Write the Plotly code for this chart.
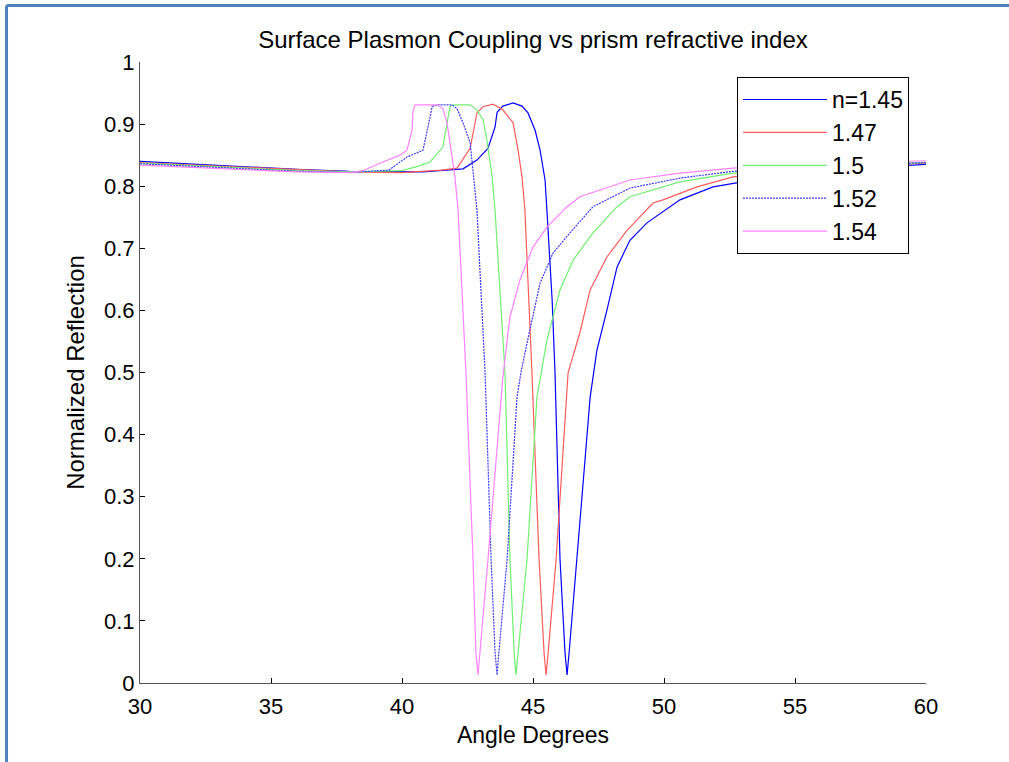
import plotly.graph_objects as go

# Surface plasmon reflection curves
labels = ["n=1.45", "1.47", "1.5", "1.52", "1.54"]

angle_145 = [30, 33, 36, 38, 40.80, 42.33, 42.86, 43.28, 43.55, 43.63, 43.85, 44.24, 44.58,
             44.81, 45.08, 45.27, 45.46, 45.53, 45.73, 45.84, 46.03, 46.22, 46.30, 46.38,
             46.68, 46.87, 47.18, 47.44, 47.82, 48.21, 48.70, 49.35, 50.61, 51.87, 52.71,
             56, 60]
refl_145 = [0.840, 0.833, 0.827, 0.824, 0.823, 0.828, 0.842, 0.861, 0.895, 0.919, 0.929,
            0.934, 0.929, 0.918, 0.890, 0.858, 0.810, 0.762, 0.617, 0.500, 0.200, 0.050,
            0.013, 0.050, 0.198, 0.300, 0.460, 0.536, 0.600, 0.670, 0.713, 0.741, 0.778,
            0.799, 0.805, 0.826, 0.835]

angle_147 = [30, 33, 36, 38, 40, 41.5, 42.10, 42.60, 42.86, 43.09, 43.47, 43.85, 44.24,
             44.43, 44.58, 44.69, 44.96, 45.23, 45.42, 45.50, 45.58, 45.88, 46.34, 46.79,
             47.18, 47.82, 48.59, 49.58, 49.96, 51.26, 52.63, 56, 60]
refl_147 = [0.838, 0.832, 0.826, 0.823, 0.822, 0.826, 0.829, 0.861, 0.918, 0.928, 0.932,
            0.923, 0.902, 0.858, 0.815, 0.762, 0.500, 0.200, 0.050, 0.013, 0.050, 0.198,
            0.500, 0.564, 0.633, 0.686, 0.729, 0.773, 0.778, 0.799, 0.815, 0.830, 0.837]

angle_150 = [30, 33, 36, 38, 40, 40.6, 41.07, 41.56, 41.76, 41.83, 41.95, 42.60, 42.86,
             43.09, 43.24, 43.44, 43.55, 43.93, 44.12, 44.28, 44.35, 44.43, 44.77, 45.15,
             45.31, 45.53, 46.03, 46.53, 47.29, 48.21, 48.70, 50.61, 52.63, 56, 60]
refl_150 = [0.837, 0.831, 0.825, 0.823, 0.825, 0.832, 0.839, 0.863, 0.911, 0.928, 0.931,
            0.931, 0.923, 0.907, 0.874, 0.815, 0.762, 0.500, 0.200, 0.050, 0.013, 0.050,
            0.198, 0.460, 0.500, 0.552, 0.633, 0.681, 0.725, 0.767, 0.783, 0.807, 0.821,
            0.832, 0.838]

angle_152 = [30, 33, 36, 38, 39.5, 40.19, 40.80, 40.99, 41.15, 41.34, 41.91, 42.10, 42.33,
             42.60, 42.71, 42.86, 43.17, 43.40, 43.55, 43.63, 43.70, 44.01, 44.39, 44.54,
             44.77, 45.27, 45.76, 46.41, 47.29, 48.70, 50.61, 52.63, 56, 60]
refl_152 = [0.836, 0.830, 0.824, 0.822, 0.826, 0.847, 0.858, 0.895, 0.928, 0.931, 0.931,
            0.925, 0.902, 0.870, 0.821, 0.762, 0.500, 0.200, 0.050, 0.013, 0.050, 0.198,
            0.460, 0.500, 0.547, 0.644, 0.692, 0.725, 0.767, 0.797, 0.813, 0.824, 0.833,
            0.838]

angle_154 = [30, 33, 36, 38, 38.5, 39.27, 39.92, 40.19, 40.38, 40.42, 40.50, 41.34, 41.56,
             41.72, 41.91, 42.02, 42.14, 42.44, 42.71, 42.82, 42.90, 42.98, 43.28, 43.85,
             44.12, 44.50, 45.00, 45.53, 46.30, 46.79, 48.70, 50.61, 52.63, 56, 60]
refl_154 = [0.834, 0.829, 0.823, 0.822, 0.825, 0.839, 0.850, 0.858, 0.890, 0.920, 0.931,
            0.931, 0.925, 0.902, 0.847, 0.815, 0.762, 0.500, 0.200, 0.050, 0.013, 0.050,
            0.198, 0.493, 0.589, 0.649, 0.702, 0.734, 0.767, 0.783, 0.810, 0.821, 0.829,
            0.836, 0.841]

x_ticks = [30, 35, 40, 45, 50, 55, 60]
y_ticks = [0, 0.1, 0.2, 0.3, 0.4, 0.5, 0.6, 0.7, 0.8, 0.9, 1]

series = [
    (angle_145, refl_145, "#0000ff", "solid"),
    (angle_147, refl_147, "#ff5a5a", "solid"),
    (angle_150, refl_150, "#70f070", "solid"),
    (angle_152, refl_152, "#3a3aff", "2px,1px"),
    (angle_154, refl_154, "#ff80ff", "solid"),
]

FONT = "Liberation Sans, Arial, sans-serif"

fig = go.Figure()
for (xs, ys, color, dash), name in zip(series, labels):
    fig.add_trace(go.Scatter(
        x=xs, y=ys, mode="lines", name=name,
        line=dict(color=color, width=1.2, dash=dash),
    ))

axis_common = dict(
    showline=True, linecolor="#555555", linewidth=1,
    ticks="inside", ticklen=5, tickcolor="#000000",
    showgrid=False, zeroline=False,
    tickfont=dict(family=FONT, size=22, color="#000000"),
)

fig.update_layout(
    width=1009, height=762,
    margin=dict(l=140, r=83, t=62, b=79),
    paper_bgcolor="white", plot_bgcolor="white",
    font=dict(family=FONT, color="#000000"),
    title=dict(text="Surface Plasmon Coupling vs prism refractive index",
               x=0.5, xref="paper", y=0.948, yanchor="middle",
               font=dict(family=FONT, size=24, color="#000000")),
    xaxis=dict(range=[30, 60], tickvals=x_ticks, ticklabelstandoff=4,
               title=dict(text="Angle Degrees", font=dict(size=23), standoff=8),
               **axis_common),
    yaxis=dict(range=[0, 1], tickvals=y_ticks,
               title=dict(text="Normalized Reflection", font=dict(size=24), standoff=12),
               **axis_common),
    legend=dict(x=0.7595, y=0.9758, xanchor="left", yanchor="top",
                bordercolor="#000000", borderwidth=1, bgcolor="white",
                font=dict(family=FONT, size=23), itemwidth=84,
                tracegroupgap=0),
    showlegend=True,
)

# light blue page frame along the top and left edges
frame = dict(type="line", xref="paper", yref="paper",
             line=dict(color="#4f81bd", width=3))
fig.add_shape(x0=-0.1698, x1=1.15, y0=1.0910, y1=1.0910, **frame)
fig.add_shape(x0=-0.1698, x1=-0.1698, y0=1.0910, y1=-0.15, **frame)

# drop the browser's default body margin so the page frame sits at the edge
fig.write_html("out.html", config={"displayModeBar": False},
               post_script="document.body.style.margin='0';")
